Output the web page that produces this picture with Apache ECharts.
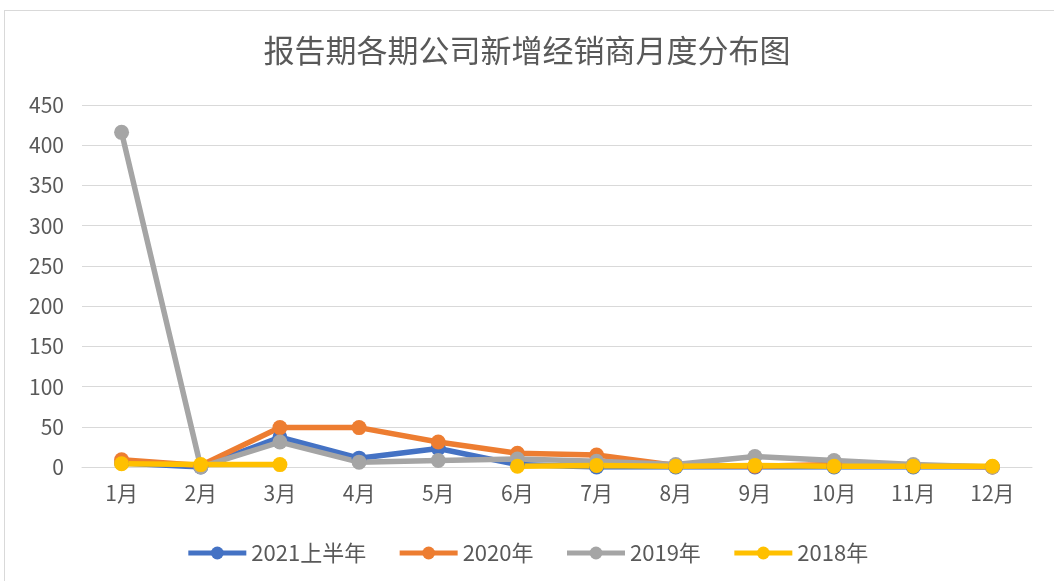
<!DOCTYPE html>
<html lang="zh">
<head>
    <meta charset="UTF-8">
    <title>报告期各期公司新增经销商月度分布图</title>
    <script src="https://cdn.jsdelivr.net/npm/echarts@6/dist/echarts.min.js"></script>
    <style>
        body { margin: 0; background: #fff; }
        #box { position: absolute; left: 4px; top: 10px; width: 1060px; height: 580px; border: 1px solid #d9d9d9; }
        #chart { position: absolute; left: 0; top: 0; width: 1054px; height: 581px; }
    </style>
</head>
<body>
<div id="box"></div>
<div id="chart"></div>
<script type="text/javascript">
    var months = ['1月', '2月', '3月', '4月', '5月', '6月', '7月', '8月', '9月', '10月', '11月', '12月'];
    var s2021 = [5, 0, 37, 11, 23, 3, 0, 0, 0, 0, 0, 0];
    var s2020 = [9, 2, 49, 49, 31, 17, 15, 2, 1, 3, 2, 0];
    var s2019 = [416, 0, 31, 6, 8, 10, 7, 3, 13, 8, 3, 0];
    var s2018 = [4, 3, 3, null, null, 1, 2, 1, 2, 1, 1, 1];
    var names = ['2021上半年', '2020年', '2019年', '2018年'];
    var colors = ['#4472c4', '#ed7d31', '#a5a5a5', '#ffc000'];

    var myChart = echarts.init(document.getElementById('chart'));
    var font = '"Noto Sans CJK SC", "Liberation Sans", sans-serif';

    // 每条折线同样的样式
    function line(name, data, color) {
        return {
            name: name,
            type: 'line',
            data: data,
            symbol: 'circle',
            symbolSize: 15,
            connectNulls: false,
            itemStyle: { color: color },
            lineStyle: { width: 5.5, color: color }
        };
    }

    var option = {
        color: colors,
        title: {
            text: '报告期各期公司新增经销商月度分布图',
            left: 'center',
            top: 30,
            textStyle: { fontFamily: font, fontSize: 31, fontWeight: 'normal', color: '#595959' }
        },
        legend: {
            bottom: 12,
            left: 'center',
            itemWidth: 58,
            itemHeight: 16,
            itemGap: 31,
            lineStyle: { width: 5 },
            textStyle: { fontFamily: font, fontSize: 22, color: '#595959' },
            data: names
        },
        grid: { left: 82, right: 22, top: 105, bottom: 114, containLabel: false },
        xAxis: {
            type: 'category',
            data: months,
            boundaryGap: true,
            axisLine: { lineStyle: { color: '#d9d9d9', width: 1 } },
            axisTick: { show: false },
            axisLabel: { fontFamily: font, fontSize: 21, color: '#595959', margin: 16 }
        },
        yAxis: {
            type: 'value',
            min: 0,
            max: 450,
            interval: 50,
            axisLine: { show: false },
            axisTick: { show: false },
            axisLabel: { fontFamily: font, fontSize: 21, color: '#595959', margin: 18 },
            splitLine: { lineStyle: { color: '#d9d9d9', width: 1 } }
        },
        series: [
            line(names[0], s2021, colors[0]),
            line(names[1], s2020, colors[1]),
            line(names[2], s2019, colors[2]),
            line(names[3], s2018, colors[3])
        ]
    };

    myChart.setOption(option);
</script>
</body>
</html>
